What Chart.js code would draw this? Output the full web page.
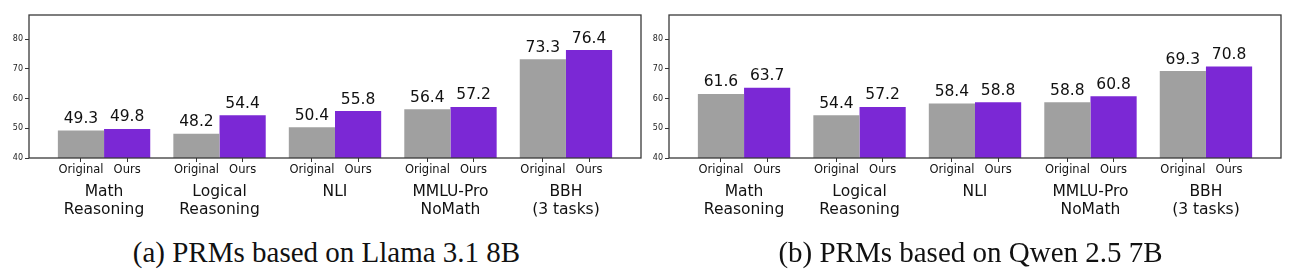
<!DOCTYPE html>
<html>
<head>
<meta charset="utf-8">
<script src="https://cdn.jsdelivr.net/npm/chart.js@4/dist/chart.umd.min.js"></script>
<style>
  body { margin: 0; background: #fff; }
  #wrap { position: relative; width: 1297px; height: 277px; }
  .panel { position: absolute; top: 0; width: 645px; height: 225px; }
  .caption {
    position: absolute; top: 236px; width: 645px; text-align: center;
    font-family: 'Liberation Serif', 'Times New Roman', serif; font-size: 29px;
    line-height: 32px; color: #111;
  }
</style>
</head>
<body>
<div id="wrap">
  <div class="panel" style="left:0px"><canvas id="chartA" width="645" height="225"></canvas></div>
  <div class="panel" style="left:640px"><canvas id="chartB" width="645" height="225"></canvas></div>
  <div class="caption" style="left:4px">(a) PRMs based on Llama 3.1 8B</div>
  <div class="caption" style="left:648px">(b) PRMs based on Qwen 2.5 7B</div>
</div>
<script>
const categories = [['Math', 'Reasoning'], ['Logical', 'Reasoning'], ['NLI'], ['MMLU-Pro', 'NoMath'], ['BBH', '(3 tasks)']];
const barLabels = ['Original', 'Ours'];
const llamaOriginal = [49.3, 48.2, 50.4, 56.4, 73.3];
const llamaOurs = [49.8, 54.4, 55.8, 57.2, 76.4];
const qwenOriginal = [61.6, 54.4, 58.4, 58.8, 69.3];
const qwenOurs = [63.7, 57.2, 58.8, 60.8, 70.8];
const yTicks = [40, 50, 60, 70, 80];

const grayColor = '#a0a0a0';
const purpleColor = '#7b28d5';
const catPct = 0.8;
const font = "'DejaVu Sans', sans-serif";

// bar-centred tick positions (Original / Ours under each bar)
const barTicks = [];
categories.forEach((c, i) => {
    barTicks.push(i - catPct / 4);
    barTicks.push(i + catPct / 4);
});

const valueLabels = {
    id: 'valueLabels',
    afterDatasetsDraw(chart) {
        const ctx = chart.ctx;
        ctx.save();
        ctx.font = '15.5px ' + font;
        ctx.fillStyle = '#111';
        ctx.textAlign = 'center';
        ctx.textBaseline = 'alphabetic';
        chart.data.datasets.forEach((ds, di) => {
            chart.getDatasetMeta(di).data.forEach((el, i) => {
                ctx.fillText(ds.data[i].y.toFixed(1), el.x, el.y - 7.5);
            });
        });
        ctx.restore();
    }
};

const frame = {
    id: 'frame',
    afterDraw(chart) {
        const a = chart.chartArea;
        const ctx = chart.ctx;
        ctx.save();
        ctx.strokeStyle = '#3a3a3a';
        ctx.lineWidth = 1.3;
        ctx.strokeRect(a.left, a.top, a.right - a.left, a.bottom - a.top);
        ctx.restore();
    }
};

function makeChart(id, original, ours) {
    const ctx = document.getElementById(id).getContext('2d');
    return new Chart(ctx, {
        type: 'bar',
        data: {
            datasets: [
                {
                    label: barLabels[0],
                    data: original.map((v, i) => ({ x: i, y: v })),
                    backgroundColor: grayColor,
                    borderWidth: 0,
                    categoryPercentage: catPct,
                    barPercentage: 1
                },
                {
                    label: barLabels[1],
                    data: ours.map((v, i) => ({ x: i, y: v })),
                    backgroundColor: purpleColor,
                    borderWidth: 0,
                    categoryPercentage: catPct,
                    barPercentage: 1
                }
            ]
        },
        options: {
            responsive: false,
            animation: false,
            layout: { padding: { top: 15, right: 4, left: 0, bottom: 0 } },
            plugins: { legend: { display: false }, tooltip: { enabled: false } },
            scales: {
                x: {
                    type: 'linear',
                    position: 'bottom',
                    min: -0.65,
                    max: 4.65,
                    offset: false,
                    weight: 1,
                    afterBuildTicks: scale => { scale.ticks = categories.map((c, i) => ({ value: i })); },
                    afterFit: scale => { scale.height = 45; },
                    grid: { display: false, drawTicks: false, offset: false },
                    border: { display: false },
                    ticks: {
                        autoSkip: false,
                        maxRotation: 0,
                        padding: 3,
                        color: '#111',
                        font: { family: font, size: 15.5, lineHeight: 1.17 },
                        callback: (v, i) => categories[i]
                    }
                },
                xbar: {
                    type: 'linear',
                    axis: 'x',
                    position: 'bottom',
                    min: -0.65,
                    max: 4.65,
                    offset: false,
                    weight: 0,
                    afterBuildTicks: scale => { scale.ticks = barTicks.map(v => ({ value: v })); },
                    afterFit: scale => { scale.height = 22; },
                    grid: { display: true, drawOnChartArea: false, drawTicks: true, tickLength: 4, color: '#333', offset: false },
                    border: { display: false },
                    ticks: {
                        autoSkip: false,
                        maxRotation: 0,
                        padding: 1,
                        color: '#111',
                        font: { family: font, size: 11.5 },
                        callback: (v, i) => barLabels[i % 2]
                    }
                },
                y: {
                    min: 40,
                    max: 88.2,
                    afterBuildTicks: scale => { scale.ticks = yTicks.map(v => ({ value: v })); },
                    afterFit: scale => { scale.width = 29; },
                    grid: { display: true, drawOnChartArea: false, drawTicks: true, tickLength: 4, color: '#333' },
                    border: { display: false },
                    ticks: {
                        padding: 2,
                        color: '#222',
                        font: { family: font, size: 8 }
                    }
                }
            }
        },
        plugins: [valueLabels, frame]
    });
}

makeChart('chartA', llamaOriginal, llamaOurs);
makeChart('chartB', qwenOriginal, qwenOurs);
</script>
</body>
</html>
